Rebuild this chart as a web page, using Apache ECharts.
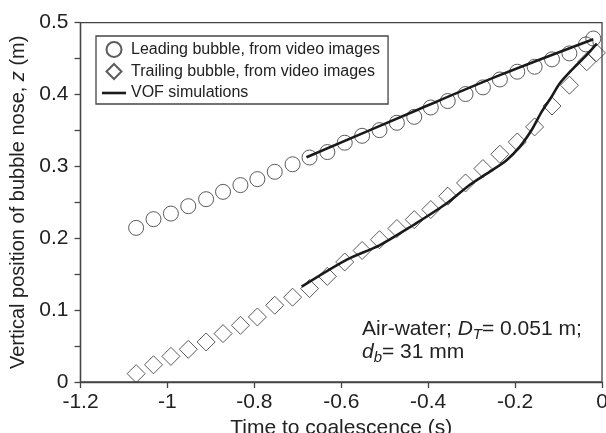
<!DOCTYPE html>
<html>
<head>
<meta charset="utf-8">
<script src="https://cdn.jsdelivr.net/npm/echarts@6/dist/echarts.min.js"></script>
<style>
html,body{margin:0;padding:0;background:#fff;}
#c{width:606px;height:433px;}
</style>
</head>
<body>
<div id="c"></div>
<script>
// ---- data ----
var leadingT = [-1.072,-1.032,-0.992,-0.952,-0.911,-0.872,-0.832,-0.793,-0.753,-0.712,-0.673,-0.632,-0.592,-0.552,-0.512,-0.472,-0.432,-0.394,-0.355,-0.314,-0.274,-0.235,-0.195,-0.155,-0.115,-0.075,-0.037,-0.020];
var leadingZ = [0.2145,0.2266,0.2344,0.2447,0.2544,0.2646,0.274,0.2823,0.2925,0.303,0.3124,0.320,0.333,0.3426,0.3505,0.3607,0.369,0.382,0.391,0.4007,0.41,0.421,0.4318,0.4387,0.449,0.4573,0.4698,0.478];
var trailingT = [-1.072,-1.032,-0.992,-0.952,-0.911,-0.872,-0.832,-0.793,-0.753,-0.712,-0.673,-0.632,-0.592,-0.552,-0.512,-0.472,-0.432,-0.394,-0.355,-0.314,-0.274,-0.235,-0.195,-0.155,-0.115,-0.075,-0.035,-0.013];
var trailingZ = [0.0116,0.024,0.0357,0.0455,0.0557,0.0673,0.0789,0.0905,0.1068,0.118,0.130,0.147,0.167,0.183,0.198,0.2136,0.226,0.240,0.2586,0.277,0.297,0.317,0.334,0.355,0.384,0.413,0.4457,0.458];
var vofLeadT = [-0.680,-0.420,-0.235,-0.020];
var vofLeadZ = [0.3127,0.380,0.427,0.477];
var vofTrailT = [-0.691,-0.588,-0.511,-0.434,-0.357,-0.304,-0.258,-0.219,-0.189,-0.162,-0.139,-0.116,-0.097,-0.066,-0.039,-0.012];
var vofTrailZ = [0.1327,0.170,0.1906,0.2185,0.2487,0.2745,0.2927,0.309,0.3275,0.3507,0.376,0.397,0.4157,0.4365,0.4527,0.471];
var xTicks = {min:-1.2, max:0, step:0.2};
var yTicks = {min:0, max:0.5, step:0.05, labelStep:0.1};
var seriesNames = ['Leading bubble, from video images','Trailing bubble, from video images','VOF simulations'];

function zip(a,b){ return a.map(function(v,i){ return [v,b[i]]; }); }
var FONT = '"Liberation Sans", Arial, Helvetica, sans-serif';
var TXT = '#222';
var AX = '#444';

var chart = echarts.init(document.getElementById('c'), null, {renderer:'canvas'});
var fmt = function(v){ return String(parseFloat(v.toFixed(2))); };
var yfmt = function(v){
  var k = v / yTicks.labelStep;
  return Math.abs(k - Math.round(k)) < 1e-6 ? fmt(v) : '';
};

chart.setOption({
  animation:false,
  backgroundColor:'#fff',
  grid:{left:80.5, right:4, top:22.7, bottom:51, containLabel:false, outerBoundsMode:'none',
    show:true, borderColor:AX, borderWidth:1.3, backgroundColor:'transparent'},
  xAxis:{
    type:'value', min:xTicks.min, max:xTicks.max, interval:xTicks.step,
    name:'Time to coalescence (s)', nameLocation:'middle', nameGap:30,
    nameTextStyle:{fontFamily:FONT, fontSize:21, color:TXT},
    axisLine:{show:true, onZero:false, lineStyle:{color:AX, width:1.3}},
    axisTick:{show:true, inside:false, length:6, lineStyle:{color:AX, width:1.3}},
    axisLabel:{fontFamily:FONT, fontSize:21, color:TXT, margin:10, formatter:fmt},
    splitLine:{show:false}
  },
  yAxis:{
    type:'value', min:yTicks.min, max:yTicks.max, interval:yTicks.step,
    name:'Vertical position of bubble nose, {i|z} (m)', nameLocation:'middle', nameGap:50,
    nameTextStyle:{fontFamily:FONT, fontSize:20, color:TXT,
      rich:{i:{fontFamily:FONT, fontSize:20, fontStyle:'italic', color:TXT}}},
    axisLine:{show:true, onZero:false, lineStyle:{color:AX, width:1.3}},
    axisTick:{show:true, inside:false, length:6, lineStyle:{color:AX, width:1.3}},
    axisLabel:{fontFamily:FONT, fontSize:21, color:TXT, margin:12, formatter:yfmt},
    splitLine:{show:false}
  },
  legend:{
    left:96, top:36, orient:'vertical',
    borderColor:AX, borderWidth:1.3, padding:[5,8,3,5],
    itemWidth:24, itemHeight:15, itemGap:5,
    textStyle:{fontFamily:FONT, fontSize:16, color:TXT, lineHeight:16},
    data:[
      {name:seriesNames[0], icon:'circle'},
      {name:seriesNames[1], icon:'path://M0,0M12,0L19.5,7.5L12,15L4.5,7.5ZM24,15'},
      {name:seriesNames[2], icon:'path://M0,0M0,6.2L24,6.2L24,8.8L0,8.8ZM24,15',
        itemStyle:{color:'#1a1a1a', borderWidth:0}}
    ]
  },
  series:[
    {name:seriesNames[0], type:'scatter', data:zip(leadingT,leadingZ), symbol:'circle', symbolSize:15,
      itemStyle:{color:'rgba(255,255,255,0)', borderColor:'#333', borderWidth:1}, z:2},
    {name:seriesNames[1], type:'scatter', data:zip(trailingT,trailingZ), symbol:'diamond', symbolSize:18,
      itemStyle:{color:'rgba(255,255,255,0)', borderColor:'#333', borderWidth:1}, z:2},
    {name:seriesNames[2], type:'line', data:zip(vofLeadT,vofLeadZ), symbol:'none', smooth:0.3,
      lineStyle:{color:'#1a1a1a', width:2.6}, itemStyle:{color:'#1a1a1a'}, z:3},
    {name:seriesNames[2], type:'line', data:zip(vofTrailT,vofTrailZ), symbol:'none', smooth:0.3,
      lineStyle:{color:'#1a1a1a', width:2.6}, itemStyle:{color:'#1a1a1a'}, z:3}
  ],
  graphic:[
    {type:'text', left:362, top:319, z:10, style:{
      text:'Air-water; {i|D}{s|T}{n|= 0.051 m;}', font:'21px '+FONT, fill:TXT,
      rich:{
        n:{fontFamily:FONT, fontSize:21, color:TXT, lineHeight:26},
        i:{fontFamily:FONT, fontSize:21, fontStyle:'italic', color:TXT, lineHeight:26},
        s:{fontFamily:FONT, fontSize:15, fontStyle:'italic', color:TXT, lineHeight:15, verticalAlign:'bottom'}
      }}},
    {type:'text', left:362, top:342, z:10, style:{
      text:'{i|d}{s|b}{n|= 31 mm}', font:'21px '+FONT, fill:TXT,
      rich:{
        n:{fontFamily:FONT, fontSize:21, color:TXT, lineHeight:26},
        i:{fontFamily:FONT, fontSize:21, fontStyle:'italic', color:TXT, lineHeight:26},
        s:{fontFamily:FONT, fontSize:15, fontStyle:'italic', color:TXT, lineHeight:15, verticalAlign:'bottom'}
      }}}
  ]
});
</script>
</body>
</html>
